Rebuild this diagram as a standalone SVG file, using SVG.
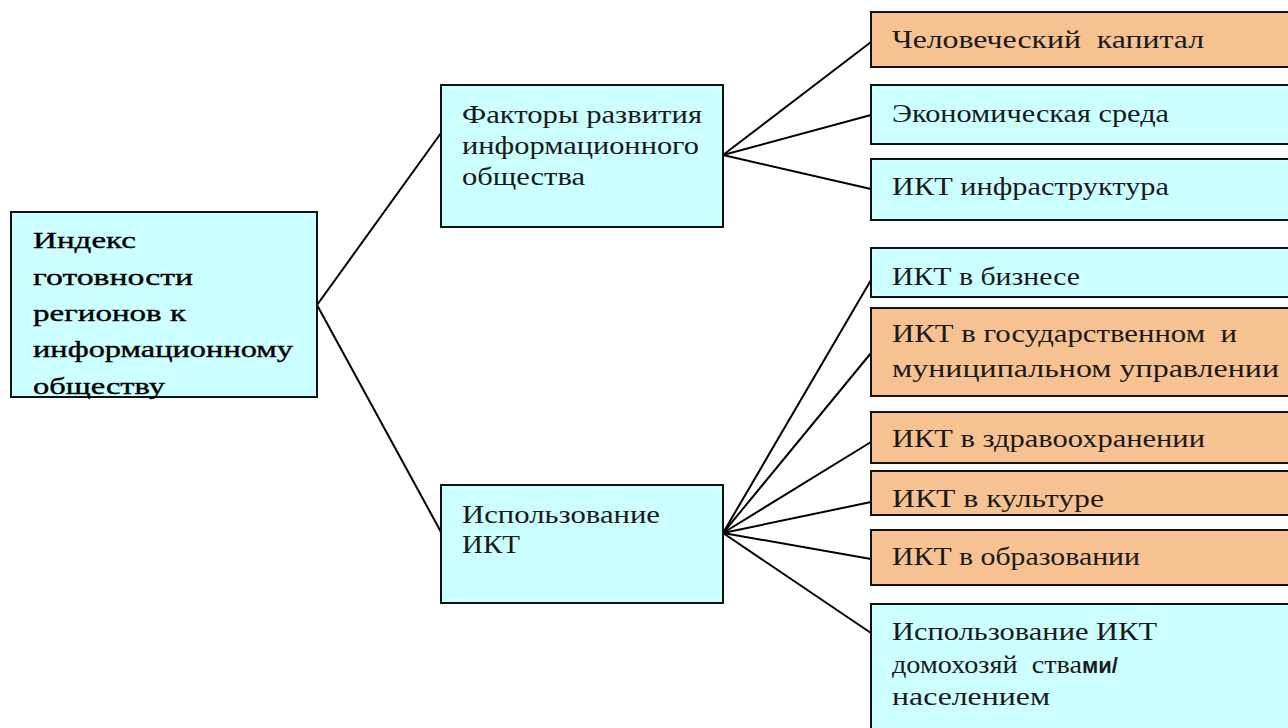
<svg xmlns="http://www.w3.org/2000/svg" width="1288" height="728" viewBox="0 0 1288 728">
<style>
.box{stroke:#111;stroke-width:2}
.c{fill:#CCFFFF}
.o{fill:#F6C291}
.t{font-family:'Liberation Serif',serif;font-size:26px;fill:#1a1a1a;white-space:pre}
.r{font-family:'Liberation Serif',serif;font-size:23px;fill:#000;stroke:#000;stroke-width:0.35;white-space:pre}
.s{font-family:'Liberation Sans',sans-serif;font-weight:bold;font-size:22px}
.ln{stroke:#000;stroke-width:2;fill:none}
</style>
<rect width="1288" height="728" fill="#fff"/>
<g id="connectors">
<line class="ln" x1="317" y1="305" x2="441" y2="133"/>
<line class="ln" x1="317" y1="305" x2="441" y2="532"/>
<line class="ln" x1="723" y1="155" x2="871" y2="42"/>
<line class="ln" x1="723" y1="155" x2="871" y2="115"/>
<line class="ln" x1="723" y1="155" x2="871" y2="189"/>
<line class="ln" x1="723" y1="533" x2="871" y2="280"/>
<line class="ln" x1="723" y1="533" x2="871" y2="353"/>
<line class="ln" x1="723" y1="533" x2="871" y2="442"/>
<line class="ln" x1="723" y1="533" x2="871" y2="502"/>
<line class="ln" x1="723" y1="533" x2="871" y2="559"/>
<line class="ln" x1="723" y1="533" x2="871" y2="633"/>
</g>
<g id="root">
<rect class="box c" x="11" y="212" width="306" height="185"/>
<text class="r" x="33" y="248" textLength="103" lengthAdjust="spacingAndGlyphs">Индекс</text>
<text class="r" x="33" y="285" textLength="160" lengthAdjust="spacingAndGlyphs">готовности</text>
<text class="r" x="33" y="321" textLength="153" lengthAdjust="spacingAndGlyphs">регионов к</text>
<text class="r" x="33" y="357" textLength="260" lengthAdjust="spacingAndGlyphs">информационному</text>
<text class="r" x="33" y="394" textLength="132" lengthAdjust="spacingAndGlyphs">обществу</text>
</g>
<g id="factors">
<rect class="box c" x="441" y="85" width="282" height="142"/>
<text class="t" x="462" y="123" textLength="240" lengthAdjust="spacingAndGlyphs">Факторы развития</text>
<text class="t" x="462" y="154" textLength="237" lengthAdjust="spacingAndGlyphs">информационного</text>
<text class="t" x="462" y="185" textLength="123" lengthAdjust="spacingAndGlyphs">общества</text>
</g>
<g id="usage">
<rect class="box c" x="441" y="485" width="282" height="118"/>
<text class="t" x="462" y="523" textLength="198" lengthAdjust="spacingAndGlyphs">Использование</text>
<text class="t" x="462" y="553" textLength="58" lengthAdjust="spacingAndGlyphs">ИКТ</text>
</g>
<g id="human-capital">
<rect class="box o" x="871" y="12" width="430" height="55"/>
<text class="t" x="892" y="48" textLength="312" lengthAdjust="spacingAndGlyphs">Человеческий  капитал</text>
</g>
<g id="economic">
<rect class="box c" x="871" y="85" width="430" height="59"/>
<text class="t" x="892" y="122" textLength="277" lengthAdjust="spacingAndGlyphs">Экономическая среда</text>
</g>
<g id="infrastructure">
<rect class="box c" x="871" y="159" width="430" height="61"/>
<text class="t" x="892" y="195" textLength="277" lengthAdjust="spacingAndGlyphs">ИКТ инфраструктура</text>
</g>
<g id="business">
<rect class="box c" x="871" y="248" width="430" height="49"/>
<text class="t" x="892" y="285" textLength="188" lengthAdjust="spacingAndGlyphs">ИКТ в бизнесе</text>
</g>
<g id="government">
<rect class="box o" x="871" y="308" width="430" height="88"/>
<text class="t" x="892" y="342" textLength="345" lengthAdjust="spacingAndGlyphs">ИКТ в государственном  и</text>
<text class="t" x="892" y="377" textLength="387" lengthAdjust="spacingAndGlyphs">муниципальном управлении</text>
</g>
<g id="health">
<rect class="box o" x="871" y="412" width="430" height="51"/>
<text class="t" x="892" y="447" textLength="313" lengthAdjust="spacingAndGlyphs">ИКТ в здравоохранении</text>
</g>
<g id="culture">
<rect class="box o" x="871" y="471" width="430" height="44"/>
<text class="t" x="892" y="507" textLength="212" lengthAdjust="spacingAndGlyphs">ИКТ в культуре</text>
</g>
<g id="education">
<rect class="box o" x="871" y="530" width="430" height="55"/>
<text class="t" x="892" y="565" textLength="248" lengthAdjust="spacingAndGlyphs">ИКТ в образовании</text>
</g>
<g id="households">
<rect class="box c" x="871" y="604" width="430" height="140"/>
<text class="t" x="892" y="640" textLength="265" lengthAdjust="spacingAndGlyphs">Использование ИКТ</text>
<text class="t" x="892" y="673"><tspan textLength="190" lengthAdjust="spacingAndGlyphs">домохозяй  ства</tspan><tspan class="s">ми/</tspan></text>
<text class="t" x="892" y="705" textLength="158" lengthAdjust="spacingAndGlyphs">населением</text>
</g>
</svg>
